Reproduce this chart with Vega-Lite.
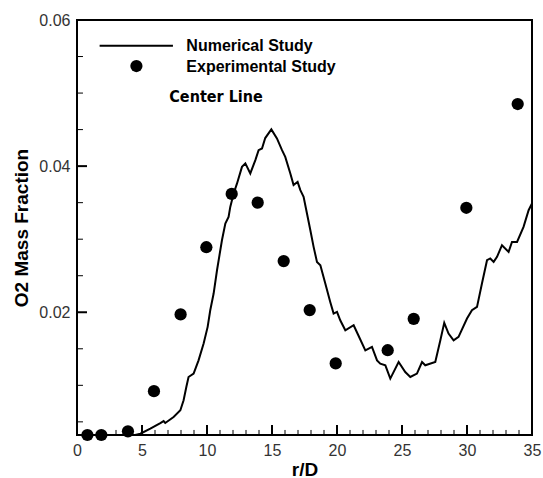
{
  "$schema": "https://vega.github.io/schema/vega-lite/v6.json",
  "width": 455,
  "height": 415,
  "autosize": {"type": "none"},
  "padding": {"left": 77, "top": 20, "right": 11, "bottom": 43},
  "background": "white",
  "config": {
    "view": {"stroke": "black", "strokeWidth": 2},
    "axis": {"labelFont": "Liberation Sans", "titleFont": "Liberation Sans", "grid": false}
  },
  "datasets": {
    "numerical": [
      {"r": 4.48, "o2": 0.0032}, {"r": 4.87, "o2": 0.00338}, {"r": 5.64, "o2": 0.00407}, {"r": 6.41, "o2": 0.00484},
      {"r": 6.66, "o2": 0.00511}, {"r": 6.79, "o2": 0.00484}, {"r": 7.43, "o2": 0.00566}, {"r": 7.95, "o2": 0.00658},
      {"r": 8.2, "o2": 0.00795}, {"r": 8.41, "o2": 0.00977}, {"r": 8.58, "o2": 0.01114}, {"r": 8.97, "o2": 0.0116},
      {"r": 9.35, "o2": 0.01342}, {"r": 9.74, "o2": 0.01571}, {"r": 10.05, "o2": 0.018}, {"r": 10.25, "o2": 0.02027},
      {"r": 10.51, "o2": 0.02256}, {"r": 10.77, "o2": 0.02575}, {"r": 11.15, "o2": 0.02986}, {"r": 11.41, "o2": 0.03215},
      {"r": 11.66, "o2": 0.03305}, {"r": 11.79, "o2": 0.03442}, {"r": 12.05, "o2": 0.03626}, {"r": 12.31, "o2": 0.03763},
      {"r": 12.69, "o2": 0.0399}, {"r": 12.95, "o2": 0.04037}, {"r": 13.33, "o2": 0.039}, {"r": 13.72, "o2": 0.04082},
      {"r": 13.97, "o2": 0.04219}, {"r": 14.23, "o2": 0.04242}, {"r": 14.48, "o2": 0.04384}, {"r": 14.95, "o2": 0.04503},
      {"r": 15.38, "o2": 0.0438}, {"r": 15.77, "o2": 0.04219}, {"r": 16.02, "o2": 0.04127}, {"r": 16.41, "o2": 0.039},
      {"r": 16.66, "o2": 0.0374}, {"r": 16.97, "o2": 0.03785}, {"r": 17.18, "o2": 0.03671}, {"r": 17.43, "o2": 0.0358},
      {"r": 17.69, "o2": 0.03352}, {"r": 17.95, "o2": 0.03123}, {"r": 18.2, "o2": 0.02895}, {"r": 18.46, "o2": 0.02689},
      {"r": 18.72, "o2": 0.02644}, {"r": 19.1, "o2": 0.02393}, {"r": 19.48, "o2": 0.02141}, {"r": 19.74, "o2": 0.01982},
      {"r": 20.0, "o2": 0.02004}, {"r": 20.25, "o2": 0.0189}, {"r": 20.64, "o2": 0.01753}, {"r": 21.28, "o2": 0.01822},
      {"r": 21.64, "o2": 0.01685}, {"r": 22.18, "o2": 0.01479}, {"r": 22.69, "o2": 0.01525}, {"r": 23.08, "o2": 0.01342},
      {"r": 23.33, "o2": 0.01297}, {"r": 23.72, "o2": 0.01274}, {"r": 24.1, "o2": 0.01092}, {"r": 24.74, "o2": 0.01319},
      {"r": 25.25, "o2": 0.01182}, {"r": 25.64, "o2": 0.01114}, {"r": 26.15, "o2": 0.0116}, {"r": 26.54, "o2": 0.01319},
      {"r": 26.79, "o2": 0.01274}, {"r": 27.56, "o2": 0.01319}, {"r": 27.95, "o2": 0.01616}, {"r": 28.25, "o2": 0.01856},
      {"r": 28.58, "o2": 0.01708}, {"r": 28.97, "o2": 0.01616}, {"r": 29.35, "o2": 0.01662}, {"r": 30.0, "o2": 0.01914},
      {"r": 30.38, "o2": 0.02027}, {"r": 30.77, "o2": 0.02073}, {"r": 31.15, "o2": 0.02393}, {"r": 31.54, "o2": 0.02712},
      {"r": 31.79, "o2": 0.02736}, {"r": 32.05, "o2": 0.02689}, {"r": 32.31, "o2": 0.02758}, {"r": 32.69, "o2": 0.02918},
      {"r": 33.2, "o2": 0.02826}, {"r": 33.46, "o2": 0.02963}, {"r": 33.85, "o2": 0.02963}, {"r": 34.35, "o2": 0.03168},
      {"r": 34.74, "o2": 0.03397}, {"r": 35.0, "o2": 0.03489}
    ],
    "experimental": [
      {"r": 0.8, "o2": 0.0032}, {"r": 1.87, "o2": 0.0032}, {"r": 3.92, "o2": 0.0037}, {"r": 5.92, "o2": 0.0092},
      {"r": 7.97, "o2": 0.0197}, {"r": 9.95, "o2": 0.0289}, {"r": 11.9, "o2": 0.0362}, {"r": 13.9, "o2": 0.035},
      {"r": 15.9, "o2": 0.027}, {"r": 17.9, "o2": 0.0203}, {"r": 19.9, "o2": 0.013}, {"r": 23.9, "o2": 0.0148},
      {"r": 25.9, "o2": 0.0191}, {"r": 29.95, "o2": 0.0343}, {"r": 33.9, "o2": 0.0485}
    ],
    "xmajor": [{"r": 5}, {"r": 10}, {"r": 15}, {"r": 20}, {"r": 25}, {"r": 30}],
    "xminor": [{"r": 1}, {"r": 2}, {"r": 3}, {"r": 4}, {"r": 6}, {"r": 7}, {"r": 8}, {"r": 9}, {"r": 11}, {"r": 12}, {"r": 13}, {"r": 14},
      {"r": 16}, {"r": 17}, {"r": 18}, {"r": 19}, {"r": 21}, {"r": 22}, {"r": 23}, {"r": 24}, {"r": 26}, {"r": 27}, {"r": 28}, {"r": 29},
      {"r": 31}, {"r": 32}, {"r": 33}, {"r": 34}],
    "ymajor": [{"o2": 0.02}, {"o2": 0.04}],
    "yminor": [{"o2": 0.005}, {"o2": 0.01}, {"o2": 0.015}, {"o2": 0.025}, {"o2": 0.03}, {"o2": 0.035}, {"o2": 0.045}, {"o2": 0.05}, {"o2": 0.055}],
    "one": [{}]
  },
  "layer": [
    {
      "data": {"name": "numerical"},
      "mark": {"type": "line", "color": "black", "strokeWidth": 2, "clip": true},
      "encoding": {
        "x": {"field": "r", "type": "quantitative", "scale": {"domain": [0, 35], "nice": false, "zero": false},
          "axis": {"orient": "bottom", "values": [0, 5, 10, 15, 20, 25, 30, 35], "domain": false, "ticks": false,
            "labelPadding": 7, "labelFontSize": 16, "labelColor": "#333", "labelFlush": false,
            "title": "r/D", "titleFontSize": 19, "titleFontWeight": "bold", "titleColor": "black",
            "titleX": 227.5, "titleY": 34, "titleBaseline": "middle", "titleAlign": "center"}},
        "y": {"field": "o2", "type": "quantitative", "scale": {"domain": [0.0032, 0.06], "nice": false, "zero": false},
          "axis": {"orient": "left", "values": [0.02, 0.04, 0.06], "format": ".2f", "domain": false, "ticks": false,
            "labelPadding": 7, "labelFontSize": 16, "labelColor": "#333", "labelFlush": false,
            "title": "O2 Mass Fraction", "titleFontSize": 19, "titleFontWeight": "bold", "titleColor": "black",
            "titleX": -56, "titleY": 207.5, "titleAngle": -90, "titleBaseline": "middle", "titleAlign": "center"}}
      }
    },
    {
      "data": {"name": "xmajor"},
      "mark": {"type": "rule", "color": "black", "strokeWidth": 2},
      "encoding": {
        "x": {"field": "r", "type": "quantitative", "axis": null},
        "y": {"datum": 0.0032, "type": "quantitative", "axis": null},
        "y2": {"datum": 0.00457}
      }
    },
    {
      "data": {"name": "xminor"},
      "mark": {"type": "rule", "color": "black", "strokeWidth": 1},
      "encoding": {
        "x": {"field": "r", "type": "quantitative", "axis": null},
        "y": {"datum": 0.0032, "type": "quantitative", "axis": null},
        "y2": {"datum": 0.00389}
      }
    },
    {
      "data": {"name": "ymajor"},
      "mark": {"type": "rule", "color": "black", "strokeWidth": 2},
      "encoding": {
        "y": {"field": "o2", "type": "quantitative", "axis": null},
        "x": {"datum": 0, "type": "quantitative", "axis": null},
        "x2": {"datum": 0.77}
      }
    },
    {
      "data": {"name": "yminor"},
      "mark": {"type": "rule", "color": "black", "strokeWidth": 1},
      "encoding": {
        "y": {"field": "o2", "type": "quantitative", "axis": null},
        "x": {"datum": 0, "type": "quantitative", "axis": null},
        "x2": {"datum": 0.46}
      }
    },
    {
      "data": {"name": "one"},
      "mark": {"type": "rule", "color": "black", "strokeWidth": 2},
      "encoding": {
        "x": {"datum": 0, "type": "quantitative", "axis": null},
        "x2": {"datum": 35},
        "y": {"datum": 0.06, "type": "quantitative", "axis": null}
      }
    },
    {
      "data": {"name": "experimental"},
      "mark": {"type": "circle", "color": "black", "opacity": 1, "size": 150, "clip": false},
      "encoding": {
        "x": {"field": "r", "type": "quantitative", "axis": null},
        "y": {"field": "o2", "type": "quantitative", "axis": null}
      }
    },
    {
      "data": {"name": "one"},
      "mark": {"type": "rule", "color": "black", "strokeWidth": 2},
      "encoding": {
        "x": {"datum": 1.74, "type": "quantitative", "axis": null},
        "x2": {"datum": 7.38},
        "y": {"datum": 0.05648, "type": "quantitative", "axis": null}
      }
    },
    {
      "data": {"name": "one"},
      "mark": {"type": "circle", "color": "black", "opacity": 1, "size": 150},
      "encoding": {
        "x": {"datum": 4.57, "type": "quantitative", "axis": null},
        "y": {"datum": 0.0537, "type": "quantitative", "axis": null}
      }
    },
    {
      "data": {"name": "one"},
      "mark": {"type": "text", "text": "Numerical Study", "align": "left", "baseline": "alphabetic", "font": "Liberation Sans", "fontSize": 16, "fontWeight": "bold", "color": "black"},
      "encoding": {
        "x": {"datum": 8.41, "type": "quantitative", "axis": null},
        "y": {"datum": 0.0558, "type": "quantitative", "axis": null}
      }
    },
    {
      "data": {"name": "one"},
      "mark": {"type": "text", "text": "Experimental Study", "align": "left", "baseline": "alphabetic", "font": "Liberation Sans", "fontSize": 16, "fontWeight": "bold", "color": "black"},
      "encoding": {
        "x": {"datum": 8.41, "type": "quantitative", "axis": null},
        "y": {"datum": 0.05292, "type": "quantitative", "axis": null}
      }
    },
    {
      "data": {"name": "one"},
      "mark": {"type": "text", "text": "Center Line", "align": "left", "baseline": "alphabetic", "font": "Liberation Sans Narrow, DejaVu Sans Condensed, sans-serif", "fontSize": 16, "fontWeight": "bold", "color": "black"},
      "encoding": {
        "x": {"datum": 7.1, "type": "quantitative", "axis": null},
        "y": {"datum": 0.04881, "type": "quantitative", "axis": null}
      }
    }
  ],
  "resolve": {"axis": {"x": "independent", "y": "independent"}}
}
